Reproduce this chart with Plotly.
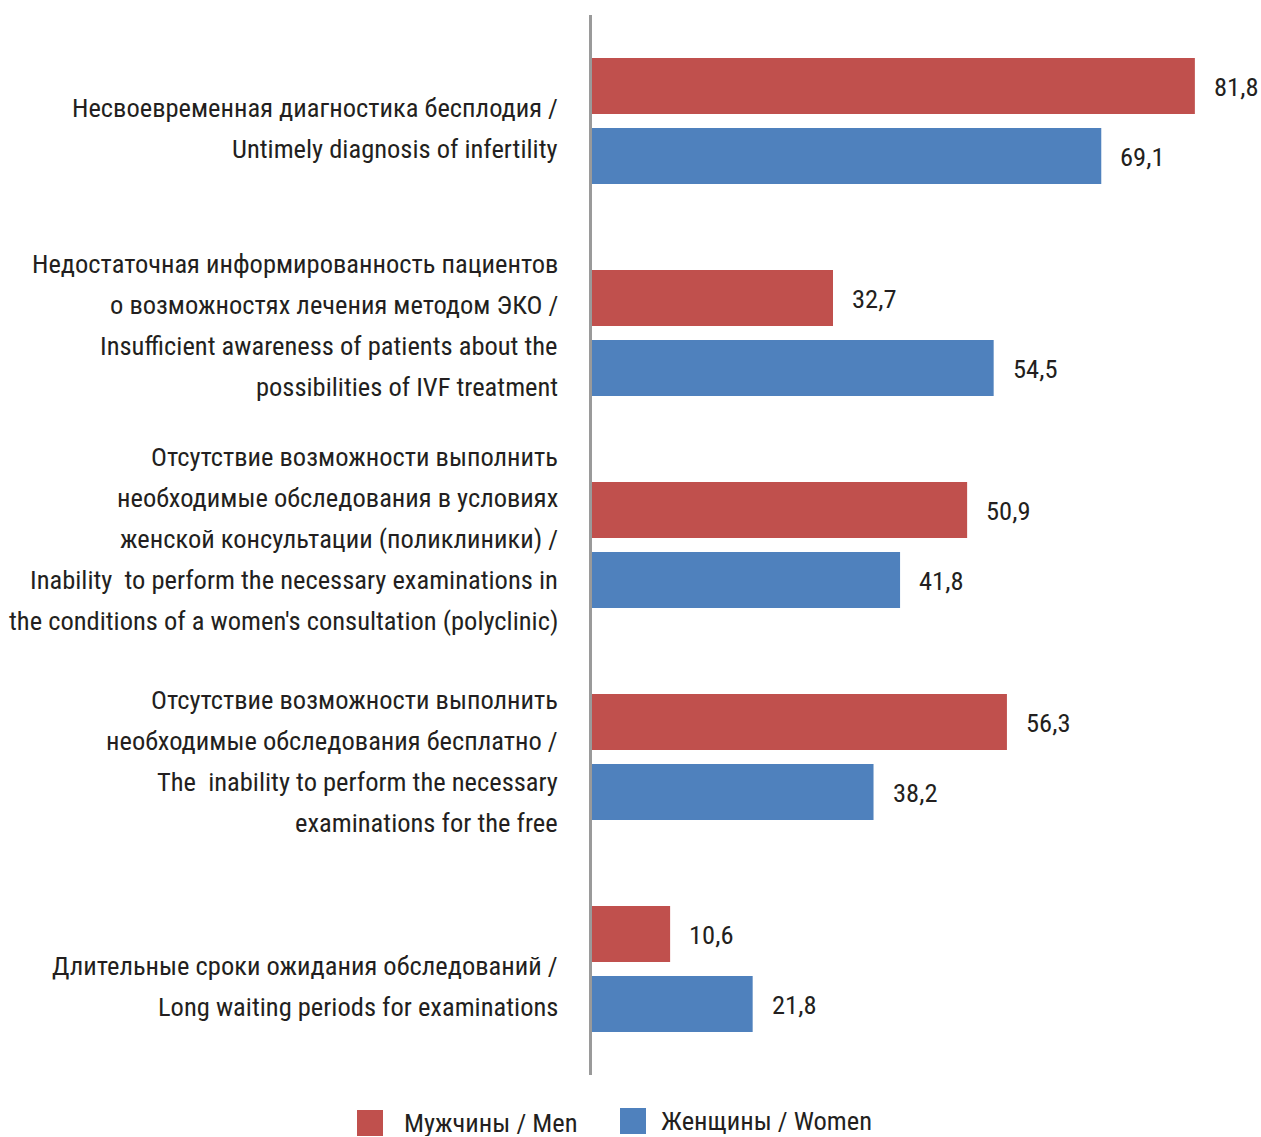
import plotly.graph_objects as go

# ---------------- data ----------------
category_lines = [
    ["Несвоевременная диагностика бесплодия /",
     "Untimely diagnosis of infertility"],
    ["Недостаточная информированность пациентов",
     "о возможностях лечения методом ЭКО /",
     "Insufficient awareness of patients about the",
     "possibilities of IVF treatment"],
    ["Отсутствие возможности выполнить",
     "необходимые обследования в условиях",
     "женской консультации (поликлиники) /",
     "Inability  to perform the necessary examinations in",
     "the conditions of a women's consultation (polyclinic)"],
    ["Отсутствие возможности выполнить",
     "необходимые обследования бесплатно /",
     "The  inability to perform the necessary",
     "examinations for the free"],
    ["Длительные сроки ожидания обследований /",
     "Long waiting periods for examinations"],
]
categories = [" ".join(lines) for lines in category_lines]
men = [81.8, 32.7, 50.9, 56.3, 10.6]
women = [69.1, 54.5, 41.8, 38.2, 21.8]
series_names = ["Мужчины / Men", "Женщины / Women"]

# ---------------- style ----------------
RED = "#C0504D"
BLUE = "#4F81BD"
FONT = "Liberation Sans Narrow, Arial Narrow, Roboto Condensed, DejaVu Sans Condensed, sans-serif"
TEXT_COLOR = "#231F20"
FSIZE = 26.5
W, H = 1261, 1137
ML, MR, MT, MB = 592, 0, 15, 62
PX_PER_UNIT = 7.37
LINE_SPACING = 41
label_nudge = [7, -8, -7, 4, 17]  # vertical nudges (px) of category labels

fig = go.Figure()
fig.add_trace(go.Bar(y=categories, x=men, orientation="h", name=series_names[0],
                     marker=dict(color=RED, line=dict(width=0)),
                     width=0.264, offset=-0.297, showlegend=False))
fig.add_trace(go.Bar(y=categories, x=women, orientation="h", name=series_names[1],
                     marker=dict(color=BLUE, line=dict(width=0)),
                     width=0.264, offset=0.033, showlegend=False))

annotations = []
# value labels
for i, (m, w) in enumerate(zip(men, women)):
    for val, shift in ((m, 35), (w, -35)):
        annotations.append(dict(
            x=val, y=i, xref="x", yref="y", xanchor="left", yanchor="middle",
            xshift=17, yshift=shift, showarrow=False,
            text=f"{val:.1f}".replace(".", ","),
            font=dict(family=FONT, size=FSIZE, color=TEXT_COLOR)))

# category labels, one annotation per line
for i, lines in enumerate(category_lines):
    n = len(lines)
    for j, line in enumerate(lines):
        annotations.append(dict(
            x=0, y=i, xref="paper", yref="y", xanchor="right", yanchor="middle",
            xshift=-32, yshift=-((j - (n - 1) / 2) * LINE_SPACING + label_nudge[i]),
            showarrow=False, text=line.replace("  ", "\u00a0 "),
            font=dict(family=FONT, size=FSIZE, color=TEXT_COLOR)))

# manual legend
def px_to_paper_x(px):
    return (px - ML) / (W - ML - MR)

def px_to_paper_y(py):
    return (H - MB - py) / (H - MT - MB)

shapes = []
legend_items = [(357, 1110, RED, series_names[0], 403, 1122),
                (620, 1108, BLUE, series_names[1], 660, 1120)]
for sx, sy, col, name, tx, ty in legend_items:
    shapes.append(dict(type="rect", xref="paper", yref="paper",
                       x0=px_to_paper_x(sx), x1=px_to_paper_x(sx + 26),
                       y0=px_to_paper_y(sy + 26), y1=px_to_paper_y(sy),
                       fillcolor=col, line=dict(width=0)))
    annotations.append(dict(x=px_to_paper_x(tx), y=px_to_paper_y(ty),
                            xref="paper", yref="paper", xanchor="left", yanchor="middle",
                            height=28, valign="middle", borderpad=0,
                            showarrow=False, text=name,
                            font=dict(family=FONT, size=FSIZE, color=TEXT_COLOR)))

fig.update_layout(
    width=W, height=H,
    margin=dict(l=ML, r=MR, t=MT, b=MB, pad=0),
    paper_bgcolor="white", plot_bgcolor="white",
    font=dict(family=FONT, size=FSIZE, color=TEXT_COLOR),
    annotations=annotations, shapes=shapes,
    showlegend=False,
    xaxis=dict(range=[0, (W - ML - MR) / PX_PER_UNIT], visible=False, showgrid=False, zeroline=False),
    yaxis=dict(type="category", autorange="reversed", showticklabels=False, ticks="",
               showgrid=False, zeroline=False, showline=True, linecolor="#9a9a9a", linewidth=3),
)

fig.write_html("out.html")
